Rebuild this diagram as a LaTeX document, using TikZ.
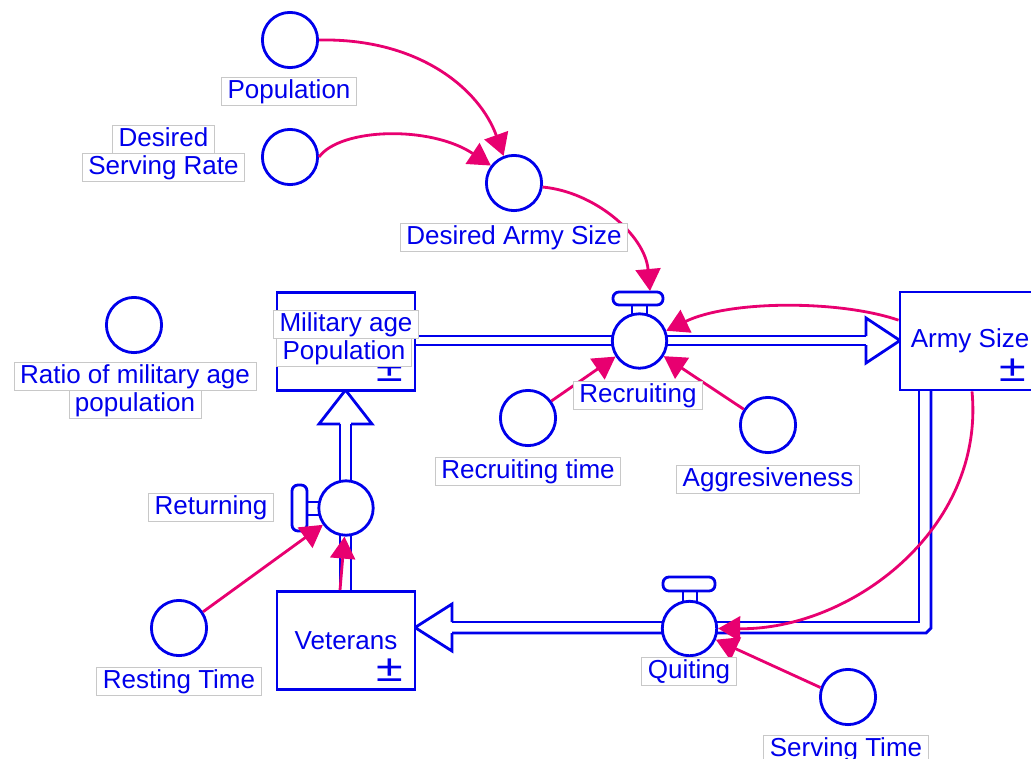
\documentclass[tikz,border=0pt]{standalone}
\usepackage{fontspec}
\setmainfont{Liberation Sans}
\usetikzlibrary{arrows.meta}
\definecolor{sdblue}{RGB}{0,0,235}
\definecolor{linkpink}{RGB}{232,0,112}
\definecolor{lblgray}{RGB}{200,200,200}
\newcommand{\lblfont}{\fontsize{18.5}{20}\selectfont}
\newcommand{\pmfont}{\fontsize{30}{30}\selectfont}
\begin{document}
\begin{tikzpicture}[x=0.025cm,y=-0.025cm,
	aux/.style={circle,draw=sdblue,line width=2pt,fill=white,minimum size=1.38cm,inner sep=0pt},
	valve/.style={circle,draw=sdblue,line width=2pt,fill=white,minimum size=1.36cm,inner sep=0pt},
	stock/.style={rectangle,draw=sdblue,line width=2pt,fill=white,minimum width=3.45cm,minimum height=2.45cm,text=sdblue,font=\lblfont},
	lbl/.style={draw=lblgray,line width=0.6pt,fill=white,text=sdblue,font=\lblfont,inner xsep=0.15cm,inner ysep=0pt,minimum height=0.7cm,text height=13.9pt,text depth=3.7pt},
	pm/.style={text=sdblue,font=\pmfont,inner sep=0pt,anchor=base},
	pipe/.style={draw=sdblue,line width=2pt},
	handle/.style={draw=sdblue,line width=2pt,fill=white,rounded corners=0.15cm},
	link/.style={draw=linkpink,line width=2pt,-{Triangle[length=0.55cm,width=0.62cm]}}]
	\useasboundingbox (0,0) rectangle (1031,758);
	% pipes
	\coordinate (rhead) at (866,340.5);
	\coordinate (qhead) at (452,627.5);
	\coordinate (bhead) at (345.5,424);
	\draw[pipe] (415,336) -- (866,336);
	\draw[pipe] (415,345) -- (866,345);
	\draw[pipe] (866,336) -- (866,318) -- (900,340.5) -- (866,363) -- (866,345);
	\draw[pipe] (919,390) -- (919,622) -- (452,622);
	\draw[pipe] (931,390) -- (931,628) -- (926,633) -- (452,633);
	\draw[pipe] (452,622) -- (452,604) -- (415,627.5) -- (452,651) -- (452,633);
	\draw[pipe] (340,591) -- (340,424);
	\draw[pipe] (351,591) -- (351,424);
	\draw[pipe] (340,424) -- (319,424) -- (345.5,390) -- (372,424) -- (351,424);
	% stocks
	\node[stock] (mil) at (346,341.5) {};
	\node[stock] (vet) at (346,640.5) {Veterans};
	\node[stock,minimum width=3.5cm] (army) at (970,341) {Army Size};
	\node[pm] at (390,381) {\scalebox{1.15}[0.9]{±}};
	\node[pm] at (390,681) {\scalebox{1.15}[0.9]{±}};
	\node[pm] at (1013,381) {\scalebox{1.15}[0.9]{±}};
	% valves
	\draw[handle,rounded corners=0pt] (632,305) rectangle (647,316);
	\draw[handle] (613,292) rectangle (663,305);
	\node[valve] (recr) at (639.5,341) {};
	\draw[handle,rounded corners=0pt] (683,591) rectangle (697,604);
	\draw[handle] (663,577) rectangle (715,591);
	\node[valve] (quit) at (689.5,628.5) {};
	\draw[handle,rounded corners=0pt] (307,502) rectangle (320,515);
	\draw[handle] (292,485) rectangle (307,531);
	\node[valve] (ret) at (346,508) {};
	% auxiliaries
	\node[aux] (pop) at (290,40) {};
	\node[aux] (dsr) at (290,157) {};
	\node[aux] (das) at (514,183) {};
	\node[aux] (ratio) at (134,325) {};
	\node[aux] (rtime) at (528,418) {};
	\node[aux] (aggr) at (768,425) {};
	\node[aux] (rest) at (179,628) {};
	\node[aux] (stime) at (848,697) {};
	% links
	\coordinate (rhandle) at (650,291);
	\draw[link] (pop.east) .. controls (420,38) and (480,90) .. (das.111);
	\draw[link] (dsr.east) .. controls (340,128) and (430,125) .. (das.143);
	\draw[link] (das.-8) .. controls (595,192) and (645,235) .. (rhandle);
	\draw[link] ([yshift=0.52cm]army.west) .. controls (840,300) and (730,300) .. (recr.21);
	\draw[link] (rtime.36) -- (recr.213);
	\draw[link] (aggr.147) -- (recr.-32);
	\draw[link] ([xshift=0.05cm]army.south) .. controls (985,530) and (850,630) .. (quit.east);
	\draw[link] (stime.161) -- (quit.-23);
	\draw[link] (rest.34) -- (ret.216);
	\draw[link] ([xshift=-0.15cm]vet.north) -- (ret.-93);
	% labels
	\node[lbl] (popl) at (289,91) {Population};
	\node[lbl] (dsrl) at (163.5,139) {Desired};
	\node[lbl] (dsrl2) at (163.5,167.5) {Serving Rate};
	\node[lbl] (dasl) at (514,237) {Desired Army Size};
	\node[lbl] (ratiol) at (135,376.5) {Ratio of military age};
	\node[lbl] (ratiol2) at (135,404.5) {population};
	\node[lbl] (mill) at (346,324) {Military age};
	\node[lbl] (mill2) at (344,352) {Population};
	\node[lbl] (recrl) at (638,395) {Recruiting};
	\node[lbl] (rtimel) at (528,471) {Recruiting time};
	\node[lbl] (aggrl) at (768,479) {Aggresiveness};
	\node[lbl] (retl) at (211,507) {Returning};
	\node[lbl] (restl) at (179,681) {Resting Time};
	\node[lbl] (quitl) at (689,671) {Quiting};
	\node[lbl] (stimel) at (846,749) {Serving Time};
\end{tikzpicture}
\end{document}
